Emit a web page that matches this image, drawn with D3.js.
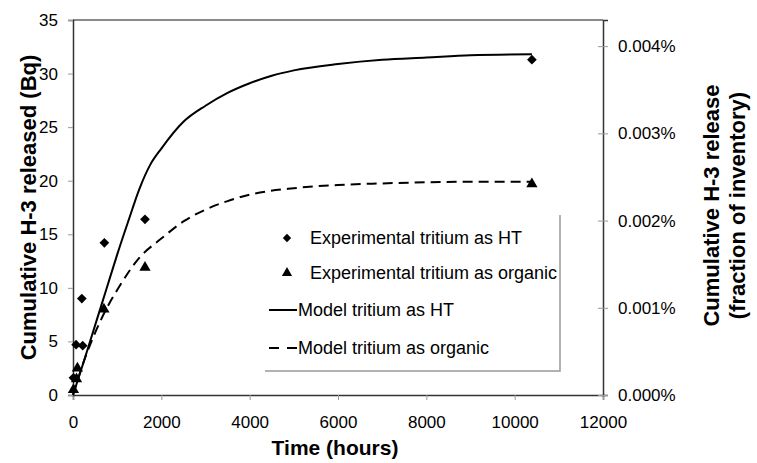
<!DOCTYPE html>
<html>
<head>
<meta charset="utf-8">
<script src="https://cdn.jsdelivr.net/npm/d3@7"></script>
<style>
  body { margin: 0; background: #fff; }
  svg text { font-family: "Liberation Sans", Arial, sans-serif; fill: #000; }
</style>
</head>
<body>
<div id="chart"></div>
<script>
// experimental points (hours, Bq)
const htHours = [10, 70, 200, 220, 710, 1630, 10390];
const htBq = [1.6, 4.7, 9.0, 4.6, 14.2, 16.4, 31.3];
const orgHours = [10, 80, 100, 700, 1630, 10390];
const orgBq = [0.5, 1.5, 2.5, 8.0, 11.9, 19.7];

// model curves
const modelHtHours = [0, 250, 500, 750, 1000, 1250, 1500, 1750, 2000, 2500, 3000, 3500, 4000, 4500, 5000, 6000, 7000, 8000, 9000, 10390];
const modelHtBq = [0, 3.2, 6.5, 9.8, 13.1, 16.2, 19.2, 21.5, 23.0, 25.5, 27.0, 28.2, 29.1, 29.8, 30.3, 30.9, 31.3, 31.5, 31.7, 31.8];
const modelOrgHours = [0, 250, 500, 750, 1000, 1500, 2000, 2500, 3000, 3500, 4000, 5000, 6000, 7000, 8000, 9000, 10390];
const modelOrgBq = [0, 3.2, 5.8, 8.0, 9.8, 12.8, 14.6, 16.2, 17.3, 18.1, 18.7, 19.3, 19.6, 19.75, 19.85, 19.9, 19.9];

const xTicks = [0, 2000, 4000, 6000, 8000, 10000, 12000];
const yTicks = [0, 5, 10, 15, 20, 25, 30, 35];
const pctTicks = [0, 0.001, 0.002, 0.003, 0.004];
const inventoryBq = 814000;

const legendLabels = [
  "Experimental tritium as HT",
  "Experimental tritium as organic",
  "Model tritium as HT",
  "Model tritium as organic"
];

const W = 757, H = 463;
const margin = { top: 20, right: 154, bottom: 68, left: 73 };
const width = W - margin.left - margin.right;
const height = H - margin.top - margin.bottom;

const svg = d3.select('#chart').append('svg')
  .attr('width', W)
  .attr('height', H);

const g = svg.append('g')
  .attr('transform', `translate(${margin.left},${margin.top})`);

const x = d3.scaleLinear().domain([0, 12000]).range([0, width]);
const y = d3.scaleLinear().domain([0, 35]).range([height, 0]);
const yR = d3.scaleLinear().domain([0, 35 / inventoryBq * 100]).range([height, 0]);

// top border
g.append('line')
  .attr('x1', 0).attr('x2', width).attr('y1', 0).attr('y2', 0)
  .attr('stroke', '#8a8a8a').attr('stroke-width', 2);

// X axis
const xAxis = g.append('g')
  .attr('transform', `translate(0,${height})`)
  .call(d3.axisBottom(x).tickValues(xTicks).tickSize(5).tickPadding(16).tickFormat(d3.format('d')));
xAxis.select('.domain').attr('stroke', '#333').attr('stroke-width', 1.5);
xAxis.selectAll('line').attr('stroke', '#999');
xAxis.selectAll('text').style('font-size', '17px');

// Y axis left
const yAxis = g.append('g')
  .call(d3.axisLeft(y).tickValues(yTicks).tickSize(5).tickPadding(10));
yAxis.select('.domain').attr('stroke', '#333').attr('stroke-width', 1.5);
yAxis.selectAll('line').attr('stroke', '#999');
yAxis.selectAll('text').style('font-size', '17px');

// Y axis right (fraction of inventory)
const yAxisR = g.append('g')
  .attr('transform', `translate(${width},0)`)
  .call(d3.axisRight(yR).tickValues(pctTicks).tickSize(5).tickPadding(10).tickFormat(d => d.toFixed(3) + '%'));
yAxisR.select('.domain').attr('stroke', '#333').attr('stroke-width', 1.5);
yAxisR.selectAll('line').attr('stroke', '#999').attr('x1', -5);
yAxisR.selectAll('text').style('font-size', '17px');

// Legend box (right + bottom edges only)
const lg = g.append('g').attr('transform', `translate(${265 - margin.left},${215 - margin.top})`);
lg.append('path')
  .attr('d', 'M295,0 V156 H0')
  .attr('fill', 'none')
  .attr('stroke', '#999')
  .attr('stroke-width', 1.5);

// Model curves
const lineHt = d3.line()
  .x((d, i) => x(modelHtHours[i]))
  .y(d => y(d))
  .curve(d3.curveMonotoneX);
const lineOrg = d3.line()
  .x((d, i) => x(modelOrgHours[i]))
  .y(d => y(d))
  .curve(d3.curveMonotoneX);

g.append('path')
  .datum(modelHtBq)
  .attr('fill', 'none')
  .attr('stroke', '#000')
  .attr('stroke-width', 2)
  .attr('d', lineHt);

g.append('path')
  .datum(modelOrgBq)
  .attr('fill', 'none')
  .attr('stroke', '#000')
  .attr('stroke-width', 2)
  .attr('stroke-dasharray', '10,6')
  .attr('d', lineOrg);

// Markers
const diamond = d3.symbol().type(d3.symbolDiamond2).size(60);
const triangle = d3.symbol().type(d3.symbolTriangle).size(55);

g.selectAll('.ht')
  .data(htBq)
  .enter().append('path')
  .attr('class', 'ht')
  .attr('d', diamond)
  .attr('transform', (d, i) => `translate(${x(htHours[i])},${y(d)})`)
  .attr('fill', '#000');

g.selectAll('.org')
  .data(orgBq)
  .enter().append('path')
  .attr('class', 'org')
  .attr('d', triangle)
  .attr('transform', (d, i) => `translate(${x(orgHours[i])},${y(d)})`)
  .attr('fill', '#000');

// Legend entries
const rowY = [23, 58, 95, 133];
const lx = 287 - 265;
lg.append('path').attr('d', d3.symbol().type(d3.symbolDiamond2).size(45))
  .attr('transform', `translate(${lx},${rowY[0]})`).attr('fill', '#000');
lg.append('path').attr('d', d3.symbol().type(d3.symbolTriangle).size(45))
  .attr('transform', `translate(${lx},${rowY[1]})`).attr('fill', '#000');
lg.append('line').attr('x1', 4).attr('x2', 32).attr('y1', rowY[2]).attr('y2', rowY[2])
  .attr('stroke', '#000').attr('stroke-width', 2);
lg.append('line').attr('x1', 4).attr('x2', 32).attr('y1', rowY[3]).attr('y2', rowY[3])
  .attr('stroke', '#000').attr('stroke-width', 2).attr('stroke-dasharray', '10,8');

lg.selectAll('.lbl')
  .data(legendLabels)
  .enter().append('text')
  .attr('x', (d, i) => i < 2 ? 45 : 33)
  .attr('y', (d, i) => rowY[i])
  .attr('dy', '0.35em')
  .style('font-size', '18px')
  .text(d => d);

// Axis titles
svg.append('text')
  .attr('transform', `translate(28,${margin.top + height / 2}) rotate(-90)`)
  .attr('text-anchor', 'middle')
  .attr('dy', '0.35em')
  .style('font-size', '22px')
  .style('font-weight', 'bold')
  .text('Cumulative H-3 released (Bq)');

svg.append('text')
  .attr('x', 335)
  .attr('y', 448)
  .attr('text-anchor', 'middle')
  .attr('dy', '0.35em')
  .style('font-size', '21px')
  .style('font-weight', 'bold')
  .text('Time (hours)');

const rt = svg.append('text')
  .attr('transform', `translate(726,${margin.top + height / 2 - 2}) rotate(-90)`)
  .attr('text-anchor', 'middle')
  .style('font-size', '22px')
  .style('font-weight', 'bold');
rt.append('tspan').attr('x', 0).attr('dy', '-0.3em').text('Cumulative H-3 release');
rt.append('tspan').attr('x', 0).attr('dy', '1.15em').text('(fraction of inventory)');
</script>
</body>
</html>
